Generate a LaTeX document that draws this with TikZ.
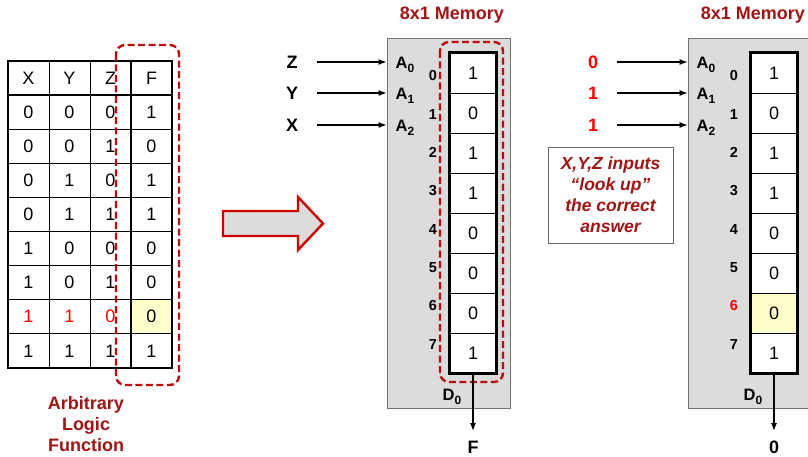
\documentclass[tikz,border=0pt]{standalone}
\usepackage{fontspec}
\setmainfont{Liberation Sans}
\usetikzlibrary{arrows.meta,positioning,calc}
\definecolor{clrDR}{RGB}{160,20,20}
\definecolor{clrR}{RGB}{255,0,0}
\definecolor{clrDash}{RGB}{190,10,10}
\definecolor{clrBox}{RGB}{220,220,220}
\definecolor{clrY}{RGB}{255,255,204}
\newcommand{\subidx}[1]{\raisebox{-0.45ex}{\fontsize{12}{12}\selectfont #1}}

\begin{document}
\begin{tikzpicture}[x=1pt,y=-1pt,
  lbl/.style={font=\fontsize{18}{20}\selectfont\bfseries,inner sep=3pt},
  alab/.style={font=\fontsize{16.5}{18}\selectfont\bfseries,inner sep=1pt},
  addr/.style={font=\fontsize{14.5}{16}\selectfont\bfseries,inner sep=1pt},
  digit/.style={font=\fontsize{18}{20}\selectfont,inner sep=1pt},
  cell/.style={draw,line width=.8pt,minimum width=46pt,minimum height=40pt,inner sep=0pt,font=\fontsize{18}{20}\selectfont},
  membox/.style={draw=black!55,fill=clrBox,line width=.8pt,minimum width=123pt,minimum height=370pt},
  reddash/.style={draw=clrDash,line width=2.4pt,dash pattern=on 7pt off 3.5pt,rounded corners=9pt},
  thinln/.style={line width=.8pt},
  thickln/.style={line width=2.6pt},
  inarr/.style={-{Latex[length=8pt,width=6pt]},line width=1.2pt,shorten <=16pt},
  outarr/.style={-{Latex[length=8pt,width=6pt]},line width=1.2pt},
  notebox/.style={draw=black!60,line width=.8pt,fill=white,text=clrDR,align=center,
    minimum width=125pt,minimum height=96pt,font=\fontsize{17.5}{21}\selectfont\bfseries\itshape}]
  \useasboundingbox (0,0) rectangle (808,457);
  \def\rh{34.1}

  % --- truth table ---
  \fill[clrY] (131,{61+\rh*7}) rectangle (172,{61+\rh*8});
  \foreach \k in {2,...,8}
    \draw[thinln] (8,{61+\rh*\k}) -- (172,{61+\rh*\k});
  \draw[thinln] (49,61) -- (49,368) (90,61) -- (90,368);
  \draw[thickln] (8,61) rectangle (172,368);
  \draw[thickln] (8,{61+\rh}) -- (172,{61+\rh}) (131,61) -- (131,368);

  \node[digit] (hX) at (28.5,78) {X};
  \node[digit] (hY) at (69.5,78) {Y};
  \node[digit] (hZ) at (110.5,78) {Z};
  \node[digit] (hF) at (151.5,78) {F};
  \foreach \r/\vx/\vy/\vz/\vf/\c in {%
    1/0/0/0/1/black, 2/0/0/1/0/black, 3/0/1/0/1/black, 4/0/1/1/1/black,
    5/1/0/0/0/black, 6/1/0/1/0/black, 7/1/1/0/0/clrR, 8/1/1/1/1/black}{
      \node[digit,text=\c] (tx\r) at (28.5,{61+\rh*(\r+0.5)}) {\vx};
      \node[digit,text=\c] (ty\r) at (69.5,{61+\rh*(\r+0.5)}) {\vy};
      \node[digit,text=\c] (tz\r) at (110.5,{61+\rh*(\r+0.5)}) {\vz};
      \node[digit] (tf\r) at (151.5,{61+\rh*(\r+0.5)}) {\vf};
  }
  \draw[reddash] (116,45) rectangle (179,385);
  \node[lbl,text=clrDR,align=center,font=\fontsize{18}{21}\selectfont\bfseries] (arb) at (86,424)
    {Arbitrary\\Logic\\Function};

  % --- big arrow ---
  \draw[clrR!80!black,fill=clrBox,line width=2.4pt]
    (223,211) -- (298,211) -- (298,197) -- (323,223.5) -- (298,250) -- (298,236) -- (223,236) -- cycle;

  % --- memory A ---
  \node[lbl,text=clrDR] (ttlA) at (452,15) {8x1 Memory};
  \node[membox] (memA) at (448.5,223) {};
  \foreach \i/\v in {0/1,1/0,2/1,3/1,4/0,5/0,6/0,7/1}{
    \node[cell,fill=white] (ca\i) at (473,{73+40*\i}) {\v};
    \node[addr] (na\i) at (433,{76+38.3*\i}) {\i};
  }
  \draw[thickln] (ca0.north west) rectangle (ca7.south east);
  \draw[reddash] (440,42) rectangle (503,382);

  \node[lbl] (inZ) at (292,62) {Z};
  \node[lbl] (inY) at (292,93) {Y};
  \node[lbl] (inX) at (292,125) {X};
  \node[alab] (aA0) at (405,65) {A\subidx{0}};
  \node[alab] (aA1) at (405,96) {A\subidx{1}};
  \node[alab] (aA2) at (405,128) {A\subidx{2}};
  \draw[inarr] (inZ.east) -- (memA.west |- inZ);
  \draw[inarr] (inY.east) -- (memA.west |- inY);
  \draw[inarr] (inX.east) -- (memA.west |- inX);

  \node[alab] (dA) at (452,397) {D\subidx{0}};
  \coordinate (endA) at (473,431);
  \draw[outarr] (ca7.south) -- (endA);
  \node[lbl] (outF) at (473,447) {F};

  % --- memory B ---
  \node[lbl,text=clrDR] (ttlB) at (753,15) {8x1 Memory};
  \node[membox] (memB) at (749.5,223) {};
  \foreach \i/\v/\f/\c in {0/1/white/black,1/0/white/black,2/1/white/black,3/1/white/black,
                           4/0/white/black,5/0/white/black,6/0/clrY/clrR,7/1/white/black}{
    \node[cell,fill=\f] (cb\i) at (774,{73+40*\i}) {\v};
    \node[addr,text=\c] (nb\i) at (734,{76+38.3*\i}) {\i};
  }
  \draw[thickln] (cb0.north west) rectangle (cb7.south east);

  \node[lbl,text=clrR] (inB0) at (593,62) {0};
  \node[lbl,text=clrR] (inB1) at (593,93) {1};
  \node[lbl,text=clrR] (inB2) at (593,125) {1};
  \node[alab] (bA0) at (706,65) {A\subidx{0}};
  \node[alab] (bA1) at (706,96) {A\subidx{1}};
  \node[alab] (bA2) at (706,128) {A\subidx{2}};
  \draw[inarr] (inB0.east) -- (memB.west |- inB0);
  \draw[inarr] (inB1.east) -- (memB.west |- inB1);
  \draw[inarr] (inB2.east) -- (memB.west |- inB2);

  \node[notebox] (note) at (610.5,195) {X,Y,Z inputs\\``look up''\\the correct\\answer};

  \node[alab] (dB) at (753,397) {D\subidx{0}};
  \coordinate (endB) at (774,431);
  \draw[outarr] (cb7.south) -- (endB);
  \node[lbl] (outB) at (774,447) {0};
\end{tikzpicture}
\end{document}
